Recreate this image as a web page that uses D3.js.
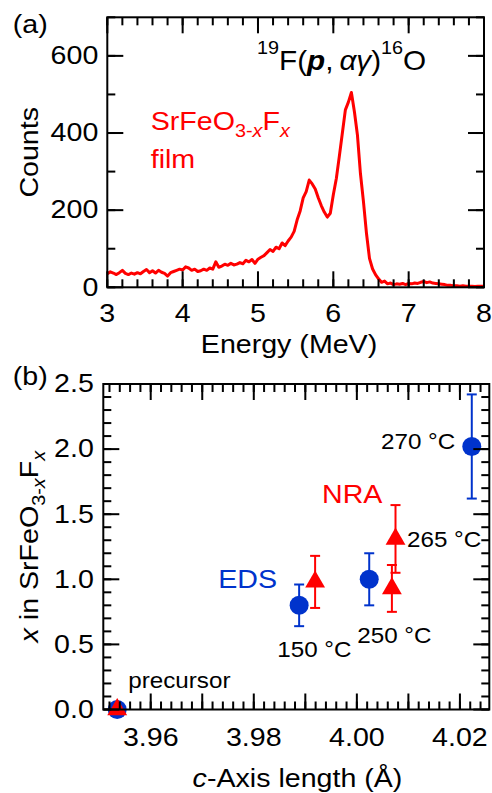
<!DOCTYPE html>
<html>
<head>
<meta charset="utf-8">
<script src="https://cdn.jsdelivr.net/npm/d3@7"></script>
<style>
body { margin: 0; background: #fff; color: #000; }
text { font-family: "Liberation Sans", Arial, sans-serif; }
</style>
</head>
<body>
<script>
// (a) NRA spectrum, counts read every 0.04 MeV from 3.00 to 8.00 MeV
var energyStart = 3.0, energyStep = 0.04;
var counts = [
  35, 40, 37, 33, 38, 44, 36, 33, 37, 34,
  38, 35, 41, 46, 38, 43, 37, 44, 39, 36,
  29, 38, 41, 44, 47, 45, 53, 50, 44, 47,
  41, 43, 47, 44, 50, 47, 66, 52, 55, 60,
  57, 62, 58, 60, 64, 61, 70, 66, 72, 62,
  73, 78, 82, 90, 98, 93, 104, 100, 115, 108,
  120, 130, 145, 175, 198, 232, 248, 278, 268, 255,
  232, 212, 195, 182, 192, 240, 282, 340, 400, 460,
  480, 505, 455, 395, 295, 222, 140, 75, 48, 33,
  22, 13, 16, 9, 11, 7, 9, 8, 10, 7,
  10, 9, 11, 10, 13, 15, 12, 14, 11, 10,
  9, 8, 7, 5, 5, 4, 4, 3, 4, 3,
  3, 3, 2, 3, 3, 3
];

// (b) x in SrFeO3-xFx against c-axis length
var edsC   = [3.9535, 3.9888, 4.0024, 4.0223];
var edsX   = [0, 0.80, 1.00, 2.02];
var edsErr = [0, 0.16, 0.20, 0.40];
var nraC   = [3.9535, 3.9919, 4.0068, 4.0075];
var nraX   = [0, 0.98, 0.93, 1.31];
var nraErr = [0, 0.20, 0.18, 0.26];

var RED = "#ff0000", BLUE = "#0033cc";

var svg = d3.select("body").append("svg")
  .attr("width", 492)
  .attr("height", 793);

// text is a bit wider than plain Arial in the figure
function label(x, y, size, fill, anchor, rot) {
  return svg.append("text")
    .attr("transform", "translate(" + x + "," + y + ")" + (rot ? " rotate(" + rot + ")" : "") + " scale(1.1,1)")
    .attr("font-size", size)
    .attr("fill", fill || "#000")
    .attr("text-anchor", anchor || "start");
}

// tick marks collected as small filled rectangles, drawn last
var tickRects = [];
var frames = [];
function box(xs, ys, o) {
  var x0 = xs.range()[0], x1 = xs.range()[1], y0 = ys.range()[0], y1 = ys.range()[1];
  function xTick(v, len) {
    tickRects.push({ x: xs(v) - 1, y: y0 - len, w: 2, h: len });
    tickRects.push({ x: xs(v) - 1, y: y1, w: 2, h: len });
  }
  function yTick(v, len) {
    tickRects.push({ x: x0, y: ys(v) - 1, w: len, h: 2 });
    tickRects.push({ x: x1 - len, y: ys(v) - 1, w: len, h: 2 });
  }
  o.xMinor.forEach(function (v) { xTick(v, 8); });
  o.xMajor.forEach(function (v) { xTick(v, 16); });
  o.yMinor.forEach(function (v) { yTick(v, 8); });
  o.yMajor.forEach(function (v) { yTick(v, 16); });
  frames.push({ x: x0, y: y1, w: x1 - x0, h: y0 - y1 });

  o.xMajor.forEach(function (v) {
    var s = o.xFmt(v);
    if (s) label(xs(v), y0 + o.xBase, 26, null, "middle").text(s);
  });
  o.yMajor.forEach(function (v) {
    label(x0 - o.yPad, ys(v) + 8.3, 26, null, "end").text(o.yFmt(v));
  });
}

// ---------- (a) ----------
var xA = d3.scaleLinear().domain([3, 8]).range([107.3, 484]);
var yA = d3.scaleLinear().domain([0, 700]).range([287.3, 17.3]);

box(xA, yA, {
  xMajor: [3, 4, 5, 6, 7, 8],
  xMinor: d3.range(15, 41).map(function (i) { return i * 0.2; }),
  xFmt: d3.format("d"), xBase: 34.5,
  yMajor: [0, 200, 400, 600],
  yMinor: d3.range(0, 8).map(function (i) { return i * 100; }),
  yFmt: d3.format("d"), yPad: 9
});

var spectrumLine = d3.line()
  .x(function (d, i) { return xA(energyStart + i * energyStep); })
  .y(function (d) { return yA(d); });

svg.append("path")
  .datum(counts)
  .attr("d", spectrumLine)
  .attr("fill", "none")
  .attr("stroke", RED)
  .attr("stroke-width", 3)
  .attr("stroke-linejoin", "round");

label(12.7, 33, 26).text("(a)");
label(38.3, 152.3, 26, null, "middle", -90).text("Counts");
label(289, 353.3, 26, null, "middle").text("Energy (MeV)");

var ann = label(257, 69.5, 27);
ann.append("tspan").attr("font-size", 18).attr("dy", -16).text("19");
ann.append("tspan").attr("font-size", 27).attr("dy", 16).text("F(");
ann.append("tspan").attr("font-weight", "bold").attr("font-style", "italic").text("p");
ann.append("tspan").text(",\u2009");
ann.append("tspan").attr("font-style", "italic").text("αγ");
ann.append("tspan").text(")");
ann.append("tspan").attr("font-size", 18).attr("dy", -16).text("16");
ann.append("tspan").attr("font-size", 27).attr("dy", 16).text("O");

var film = label(150.7, 130, 26, RED);
film.append("tspan").text("SrFeO");
film.append("tspan").attr("font-size", 18).attr("dy", 6.7).text("3-");
film.append("tspan").attr("font-size", 18).attr("font-style", "italic").text("x");
film.append("tspan").attr("font-size", 26).attr("dy", -6.7).text("F");
film.append("tspan").attr("font-size", 18).attr("font-style", "italic").attr("dy", 6.7).text("x");
label(150.7, 168.3, 26, RED).text("film");

// ---------- (b) ----------
var xB = d3.scaleLinear().domain([3.9508, 4.0257]).range([103.3, 489.3]);
var yB = d3.scaleLinear().domain([0, 2.5]).range([709.5, 384]);

box(xB, yB, {
  xMajor: d3.range(396, 403).map(function (i) { return i / 100; }),
  xMinor: d3.range(1976, 2013).map(function (i) { return i / 500; }),
  xFmt: function (d) { return Math.round(d * 100) % 2 === 0 ? d3.format(".2f")(d) : ""; },
  xBase: 36.5,
  yMajor: [0, 0.5, 1, 1.5, 2, 2.5],
  yMinor: d3.range(0, 26).map(function (i) { return i / 10; }),
  yFmt: d3.format(".1f"), yPad: 9.5
});

function errorBars(cs, vs, es, color) {
  var g = svg.append("g").attr("stroke", color).attr("stroke-width", 2);
  cs.forEach(function (c, i) {
    if (!es[i]) return;
    var x = xB(c), hi = yB(vs[i] + es[i]), lo = yB(vs[i] - es[i]);
    g.append("line").attr("x1", x).attr("x2", x).attr("y1", hi).attr("y2", lo);
    g.append("line").attr("x1", x - 5).attr("x2", x + 5).attr("y1", hi).attr("y2", hi);
    g.append("line").attr("x1", x - 5).attr("x2", x + 5).attr("y1", lo).attr("y2", lo);
  });
}

errorBars(edsC, edsX, edsErr, BLUE);
svg.append("g").selectAll("circle")
  .data(edsC)
  .enter()
  .append("circle")
  .attr("cx", function (d) { return xB(d); })
  .attr("cy", function (d, i) { return yB(edsX[i]); })
  .attr("r", 9.5)
  .attr("fill", BLUE);

errorBars(nraC, nraX, nraErr, RED);
svg.append("g").selectAll("path")
  .data(nraC)
  .enter()
  .append("path")
  .attr("d", d3.symbol().type(d3.symbolTriangle).size(170))
  .attr("transform", function (d, i) { return "translate(" + xB(d) + "," + yB(nraX[i]) + ")"; })
  .attr("fill", RED);

label(12.7, 385, 26).text("(b)");

var yTitle = label(38.3, 546.7, 26, null, "middle", -90);
yTitle.append("tspan").attr("font-style", "italic").text("x");
yTitle.append("tspan").text(" in SrFeO");
yTitle.append("tspan").attr("font-size", 18).attr("dy", 6.5).text("3-");
yTitle.append("tspan").attr("font-size", 18).attr("font-style", "italic").text("x");
yTitle.append("tspan").attr("font-size", 26).attr("dy", -6.5).text("F");
yTitle.append("tspan").attr("font-size", 18).attr("font-style", "italic").attr("dy", 6.5).text("x");

var xTitle = label(297.5, 786.5, 26, null, "middle");
xTitle.append("tspan").attr("font-style", "italic").text("c");
xTitle.append("tspan").text("-Axis length (Å)");

label(381, 449.3, 22).text("270 °C");
label(322, 503.3, 26, RED).text("NRA");
label(407, 546.7, 22).text("265 °C");
label(218.3, 587.7, 26, BLUE).text("EDS");
label(277.3, 656.7, 22).text("150 °C");
label(357.3, 643.3, 22).text("250 °C");
label(128.3, 688.3, 22).text("precursor");

// frames and tick marks last
svg.append("g").selectAll("rect")
  .data(tickRects)
  .enter()
  .append("rect")
  .attr("x", function (d) { return d.x; })
  .attr("y", function (d) { return d.y; })
  .attr("width", function (d) { return d.w; })
  .attr("height", function (d) { return d.h; })
  .attr("fill", "#000");

svg.append("g").selectAll("rect")
  .data(frames)
  .enter()
  .append("rect")
  .attr("x", function (d) { return d.x; })
  .attr("y", function (d) { return d.y; })
  .attr("width", function (d) { return d.w; })
  .attr("height", function (d) { return d.h; })
  .attr("fill", "none")
  .attr("stroke", "#000")
  .attr("stroke-width", 2);
</script>
</body>
</html>
